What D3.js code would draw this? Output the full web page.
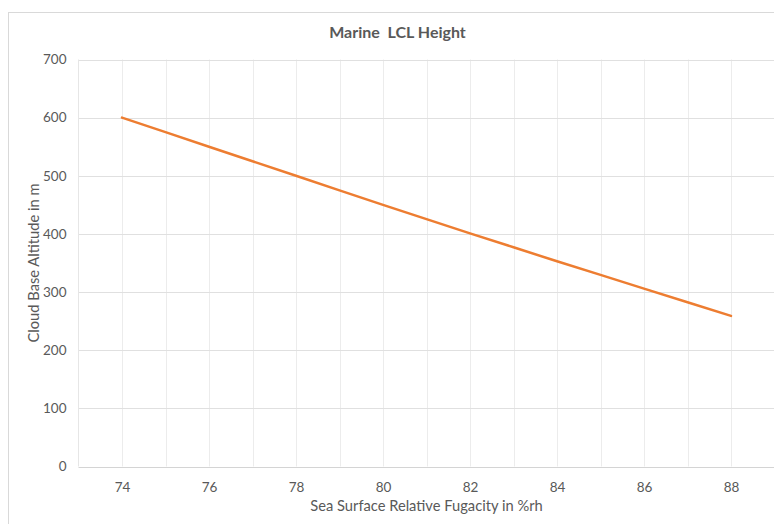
<!DOCTYPE html>
<html>
<head>
<meta charset="utf-8">
<script src="https://cdn.jsdelivr.net/npm/d3@7"></script>
<style>
  html, body { margin: 0; padding: 0; background: #fff; }
  svg { display: block; }
</style>
</head>
<body>
<svg id="chart" width="774" height="524"></svg>
<script>
// Relative fugacity at the sea surface (%rh) and the resulting cloud base height (m)
const fugacity = [74, 75, 76, 77, 78, 79, 80, 81, 82, 83, 84, 85, 86, 87, 88];
const altitude = [600, 575, 550, 525, 500, 475, 450, 425.5, 401, 377, 353, 329.5, 306, 282.5, 259];
const xTickLabels = [74, 76, 78, 80, 82, 84, 86, 88];
const yTickLabels = [0, 100, 200, 300, 400, 500, 600, 700];
const chartTitle = "Marine  LCL Height";
const xTitle = "Sea Surface Relative Fugacity in %rh";
const yTitle = "Cloud Base Altitude in m";

const svg = d3.select("#chart");
const font = "Lato, 'Open Sans', sans-serif";
const textColor = "#595959";

const plot = { left: 78.5, right: 774.5, top: 59.5, bottom: 466.5 };

const x = d3.scaleLinear().domain([73, 89]).range([plot.left, plot.right]);
const y = d3.scaleLinear().domain([0, 700]).range([plot.bottom, plot.top]);

// Chart frame
svg.append("rect")
  .attr("x", 8.5).attr("y", 12.5)
  .attr("width", 790).attr("height", 540)
  .attr("fill", "#fff")
  .attr("stroke", "#d9d9d9").attr("stroke-width", 1);

// Vertical gridlines, one per unit of fugacity
svg.append("g")
  .selectAll("line")
  .data(d3.range(74, 90))
  .join("line")
  .attr("x1", d => Math.round(x(d)) + 0.5).attr("x2", d => Math.round(x(d)) + 0.5)
  .attr("y1", plot.top).attr("y2", plot.bottom)
  .attr("stroke", "#ececec").attr("stroke-width", 1);

// Horizontal gridlines
svg.append("g")
  .selectAll("line")
  .data(yTickLabels.slice(1))
  .join("line")
  .attr("x1", plot.left).attr("x2", plot.right)
  .attr("y1", d => Math.round(y(d)) + 0.5).attr("y2", d => Math.round(y(d)) + 0.5)
  .attr("stroke", "#e0e0e0").attr("stroke-width", 1);

// Left edge of the plot area
svg.append("line")
  .attr("x1", plot.left).attr("x2", plot.left)
  .attr("y1", plot.top).attr("y2", plot.bottom)
  .attr("stroke", "#e6e6e6");

// Y axis labels
const yAxis = d3.axisLeft(y).tickValues(yTickLabels).tickSize(0).tickPadding(12);
const yG = svg.append("g").attr("transform", `translate(${plot.left},0)`).call(yAxis);
yG.select(".domain").remove();
yG.selectAll("text")
  .attr("fill", textColor).style("font-family", font).style("font-size", "13.5px");

// X axis with baseline
const xAxis = d3.axisBottom(x).tickValues(xTickLabels).tickSize(0).tickPadding(15).tickFormat(d3.format("d"));
const xG = svg.append("g").attr("transform", `translate(0,${Math.round(plot.bottom) + 0.5})`).call(xAxis);
xG.select(".domain").attr("stroke", "#d4d4d4").attr("d", `M${plot.left},0H${plot.right}`);
xG.selectAll("text")
  .attr("fill", textColor).style("font-family", font).style("font-size", "13.5px");

// Data line
const line = d3.line()
  .x((d, i) => x(fugacity[i]))
  .y(d => y(d));
svg.append("path")
  .datum(altitude)
  .attr("d", line)
  .attr("fill", "none")
  .attr("stroke", "#ED7D31")
  .attr("stroke-width", 2.5)
  .attr("stroke-linejoin", "round")
  .attr("stroke-linecap", "round");

// Titles
svg.append("text")
  .attr("x", 397.5).attr("y", 38)
  .attr("text-anchor", "middle")
  .attr("fill", textColor)
  .style("font-family", font).style("font-size", "16px").style("font-weight", "bold")
  .style("white-space", "pre").attr("xml:space", "preserve")
  .text(chartTitle);

svg.append("text")
  .attr("x", (plot.left + plot.right) / 2).attr("y", 511)
  .attr("text-anchor", "middle")
  .attr("fill", textColor)
  .style("font-family", font).style("font-size", "14.7px")
  .text(xTitle);

svg.append("text")
  .attr("transform", `translate(39,${(plot.top + plot.bottom) / 2}) rotate(-90)`)
  .attr("text-anchor", "middle")
  .attr("fill", textColor)
  .style("font-family", font).style("font-size", "14.7px")
  .text(yTitle);
</script>
</body>
</html>
